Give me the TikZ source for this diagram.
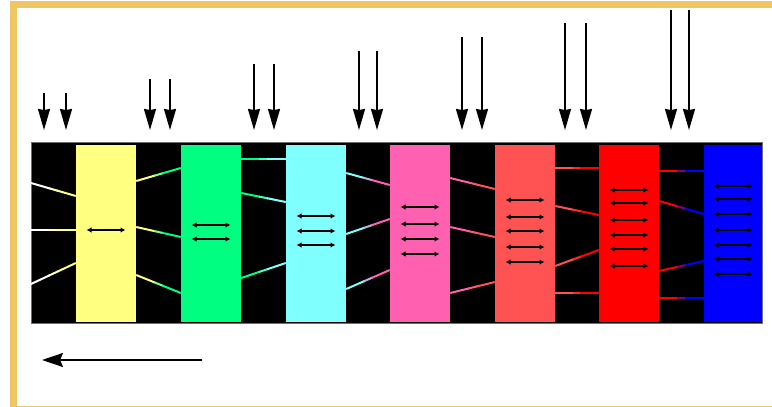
\documentclass[tikz,border=0pt]{standalone}
\usetikzlibrary{arrows.meta,calc}

\definecolor{framegold}{RGB}{238,199,100}
\definecolor{bandedge}{RGB}{110,110,110}
\definecolor{barL}{RGB}{255,255,255}
\definecolor{bar0}{RGB}{255,255,128}
\definecolor{bar1}{RGB}{0,255,128}
\definecolor{bar2}{RGB}{128,255,255}
\definecolor{bar3}{RGB}{255,96,176}
\definecolor{bar4}{RGB}{255,82,82}
\definecolor{bar5}{RGB}{255,0,0}
\definecolor{bar6}{RGB}{0,0,255}

\tikzset{
  stage/.style={rectangle, inner sep=0pt, minimum width=60pt, minimum height=177pt, draw=none},
  conn/.style={line width=2pt},
  dbl/.style={line width=1.2pt, {Latex[length=5pt,width=5.5pt]}-{Latex[length=5pt,width=5.5pt]}},
  drop/.style={line width=1.6pt, -{Stealth[length=21pt,width=12pt,inset=1pt]}},
  flow/.style={line width=2pt, -{Stealth[length=21pt,width=14pt,inset=3pt]}},
}

% a link whose colour passes from one stage colour to the next
\newcommand\stagelink[4]{%
  \draw[conn, #3] (#1) -- ($(#1)!.42!(#2)$);
  \draw[conn, #3!50!#4] ($(#1)!.4!(#2)$) -- ($(#1)!.6!(#2)$);
  \draw[conn, #4] ($(#1)!.58!(#2)$) -- (#2);
}

\begin{document}
\begin{tikzpicture}[x=1pt,y=-1pt]
\useasboundingbox (0,0) rectangle (772,407);
\clip (0,0) rectangle (772,407);

% outer gold frame (runs past the right and bottom edges)
\draw[framegold, line width=7pt] (13,4.5) rectangle (790,409);

% black band holding the stages
\node[draw=bandedge, fill=black, line width=1pt, inner sep=0pt,
      minimum width=731pt, minimum height=181pt, anchor=north west] (band) at (31,142) {};

% coloured stages
\node[stage, fill=bar0] (b0) at (106,233.5) {};
\node[stage, fill=bar1] (b1) at (211,233.5) {};
\node[stage, fill=bar2] (b2) at (316,233.5) {};
\node[stage, fill=bar3] (b3) at (420,233.5) {};
\node[stage, fill=bar4] (b4) at (525,233.5) {};
\node[stage, fill=bar5] (b5) at (629,233.5) {};
\node[stage, fill=bar6, minimum width=58pt] (b6) at (733,233.5) {};

% feed lines entering the first stage
\foreach \a/\b in {183/196, 230/230, 284/263}{
  \coordinate (p) at (band.west |- 0,\a);
  \coordinate (q) at (b0.west |- 0,\b);
  \stagelink{p}{q}{barL}{bar0}
}

% links between neighbouring stages
\foreach \g/\ys in {
  1/{181/168,227/237,275/293},
  2/{159/159,193/202,278/263},
  3/{173/185,234/219,289/270},
  4/{178/189,227/237,293/282},
  5/{168/168,206/215,266/250,293/293},
  6/{171/171,201/214,271/261,298/298}}{
  \pgfmathtruncatemacro\l{\g-1}
  \foreach \a/\b in \ys {
    \coordinate (p) at (b\l.east |- 0,\a);
    \coordinate (q) at (b\g.west |- 0,\b);
    \stagelink{p}{q}{bar\l}{bar\g}
  }
}

% exchange arrows inside each stage
\foreach \i/\ys in {
  0/{230},
  1/{225,239},
  2/{216,231,245},
  3/{207,224,239,254},
  4/{200,217,231,247,262},
  5/{190,203,220,235,249,266},
  6/{186,199,214,230,245,259,274}}{
  \foreach \y in \ys {
    \coordinate (u) at (b\i.center |- 0,\y);
    \draw[dbl] ([xshift=-19.5pt]u) -- ([xshift=19.5pt]u);
  }
}

% incoming pairs of arrows above the gaps
\foreach \xa/\xb/\t [count=\k] in {44/66/93, 150/170/79, 254/274/64, 359/377/51,
                                   462/482/37, 565/586/23, 671/689/10}{
  \coordinate (ta\k) at (\xa,\t);
  \coordinate (tb\k) at (\xb,\t);
  \coordinate (ha\k) at (\xa,130);
  \coordinate (hb\k) at (\xb,130);
  \draw[drop] (ta\k) -- (ha\k);
  \draw[drop] (tb\k) -- (hb\k);
}

% flow direction
\coordinate (flowS) at (202,360);
\coordinate (flowE) at (42,360);
\draw[flow] (flowS) -- (flowE);
\end{tikzpicture}
\end{document}
